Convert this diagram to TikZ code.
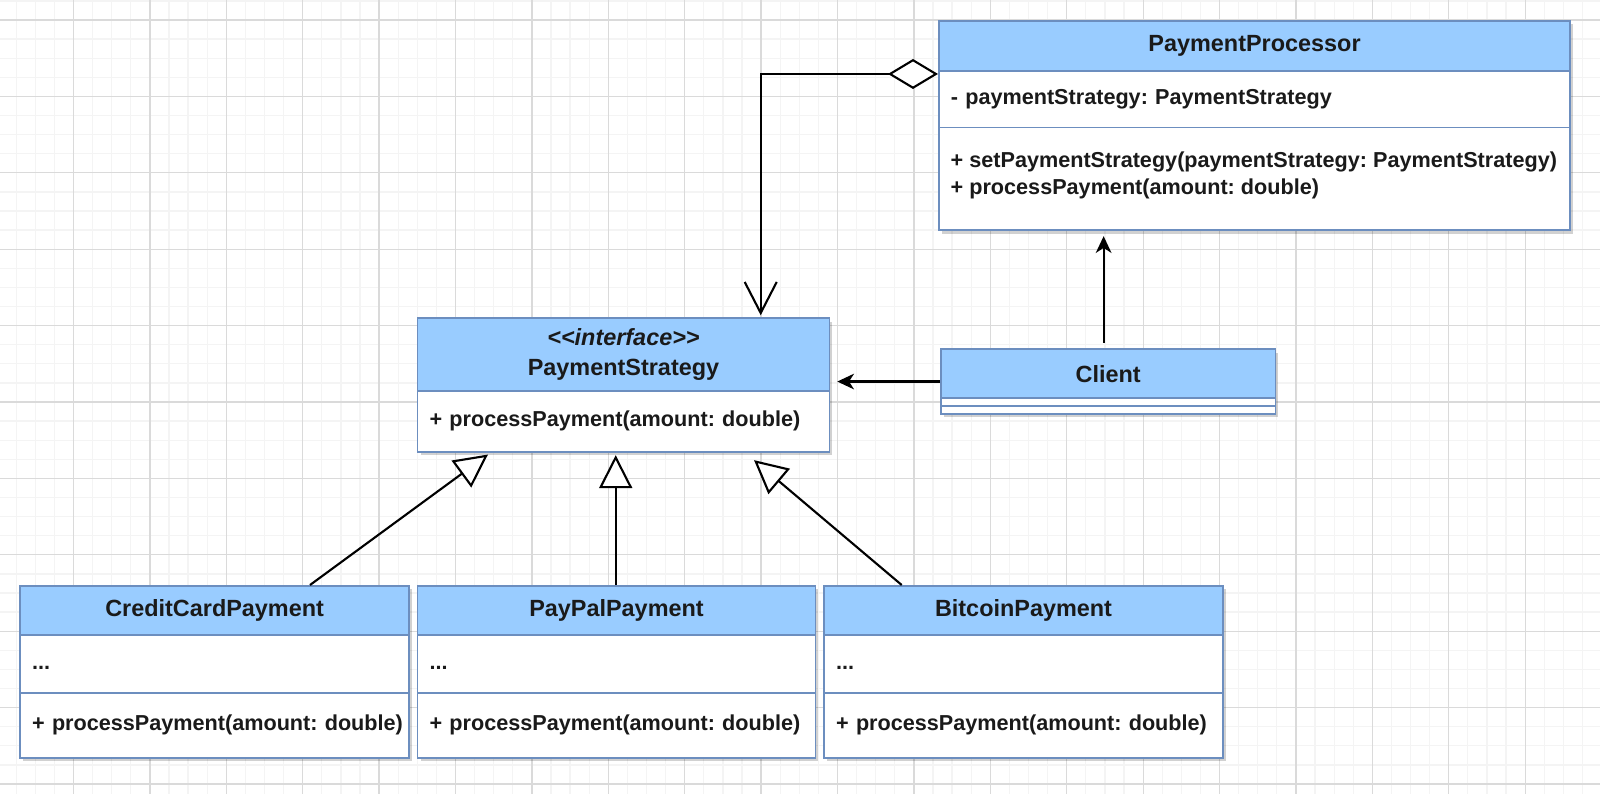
\documentclass[tikz,border=0pt]{standalone}
\usepackage{fontspec}
\setmainfont{Liberation Sans}
\usetikzlibrary{arrows.meta,shadows,calc}
\definecolor{hdrc}{HTML}{99CCFF}
\definecolor{bordc}{HTML}{6C8EBF}
\definecolor{txtc}{HTML}{1A1A1A}
\definecolor{minorc}{HTML}{F4F4F4}
\definecolor{majorc}{HTML}{DADADA}
\newcommand\bodyfnt{\fontsize{6.15pt}{7.6pt}\selectfont\bfseries\frenchspacing}
\newcommand\titlefnt{\fontsize{6.66pt}{8.54pt}\selectfont\bfseries\frenchspacing}
\frenchspacing
\begin{document}
\begin{tikzpicture}[x=0.01cm,y=-0.01cm,
 boxshadow/.style={drop shadow={shadow xshift=0.03cm,shadow yshift=-0.035cm,opacity=0.18,fill=black}},
 outer/.style={draw=bordc,line width=0.5pt,fill=white,anchor=north west,inner sep=0pt,boxshadow},
 hdr/.style={draw=bordc,line width=0.5pt,fill=hdrc,anchor=north west,inner sep=0pt,font=\titlefnt,text=txtc,align=center},
 comp/.style={draw=bordc,line width=0.5pt,fill=white,anchor=north west,inner xsep=0.12cm,inner ysep=0pt,font=\bodyfnt,text=txtc,align=left},
 conn/.style={draw=black,line width=0.6pt},
 filled/.style={-{Stealth[length=0.167cm,width=0.156cm,inset=0.05cm]}},
 inherit/.style={-{Triangle[fill=white,length=0.33cm,width=0.33cm]}}
]
\useasboundingbox (0,0) rectangle (1600,794);
\fill[white] (0,0) rectangle (1600,794);
% grid
\foreach \i in {0,...,84} \draw[minorc,line width=0.35pt] ({-2.9+19.1*\i},0) -- ({-2.9+19.1*\i},794);
\foreach \j in {-1,...,41} \draw[minorc,line width=0.35pt] (0,{20+19.1*\j}) -- (1600,{20+19.1*\j});
\foreach \i in {0,...,21} \draw[majorc,line width=0.35pt] ({-2.9+76.4*\i},0) -- ({-2.9+76.4*\i},794);
\foreach \j in {0,...,10} \draw[majorc,line width=0.35pt] (0,{20+76.4*\j}) -- (1600,{20+76.4*\j});

% PaymentProcessor
\node[outer,minimum width=6.31cm,minimum height=2.093cm] (pp) at (938,20) {};
\node[hdr,minimum width=6.31cm,minimum height=0.5cm] (ppH) at (938,20) {PaymentProcessor};
\node[comp,text width=6.07cm,minimum height=0.567cm] (ppA) at (938,70) {\strut\mbox{- paymentStrategy: PaymentStrategy}};
\node[comp,text width=6.07cm,minimum height=1.026cm] (ppM) at (938,126.7) {};
\node[font=\bodyfnt,text=txtc,anchor=north west,inner sep=0pt,align=left] (ppMt) at (950,148) {\strut+ setPaymentStrategy(paymentStrategy: PaymentStrategy)\\+ processPayment(amount: double)};

% PaymentStrategy
\node[outer,minimum width=4.116cm,minimum height=1.334cm] (ps) at (416.7,317.3) {};
\node[hdr,minimum width=4.116cm,minimum height=0.727cm] (psH) at (416.7,317.3) {\textit{<\kern0pt<interface>\kern0pt>}\\PaymentStrategy};
\node[comp,text width=3.876cm,minimum height=0.607cm] (psM) at (416.7,390) {\strut\mbox{+ processPayment(amount: double)}};

% Client
\node[outer,minimum width=3.343cm,minimum height=0.647cm] (cl) at (940,348.3) {};
\node[hdr,minimum width=3.343cm,minimum height=0.49cm] (clH) at (940,348.3) {Client};
\node[comp,minimum width=3.343cm,minimum height=0.077cm] (clA) at (940,397.3) {};
\node[comp,minimum width=3.343cm,minimum height=0.08cm] (clM) at (940,405) {};

% CreditCardPayment
\node[outer,minimum width=3.887cm,minimum height=1.717cm] (cc) at (19.3,585) {};
\node[hdr,minimum width=3.887cm,minimum height=0.49cm] (ccH) at (19.3,585) {CreditCardPayment};
\node[comp,text width=3.647cm,minimum height=0.583cm] (ccA) at (19.3,634) {\strut...};
\node[comp,text width=3.647cm,minimum height=0.644cm] (ccM) at (19.3,692.3) {\strut\mbox{+ processPayment(amount: double)}};

% PayPalPayment
\node[outer,minimum width=3.976cm,minimum height=1.717cm] (pal) at (416.7,585) {};
\node[hdr,minimum width=3.976cm,minimum height=0.49cm] (palH) at (416.7,585) {PayPalPayment};
\node[comp,text width=3.736cm,minimum height=0.583cm] (palA) at (416.7,634) {\strut...};
\node[comp,text width=3.736cm,minimum height=0.644cm] (palM) at (416.7,692.3) {\strut\mbox{+ processPayment(amount: double)}};

% BitcoinPayment
\node[outer,minimum width=3.984cm,minimum height=1.717cm] (btc) at (823.3,585) {};
\node[hdr,minimum width=3.984cm,minimum height=0.49cm] (btcH) at (823.3,585) {BitcoinPayment};
\node[comp,text width=3.744cm,minimum height=0.583cm] (btcA) at (823.3,634) {\strut...};
\node[comp,text width=3.744cm,minimum height=0.644cm] (btcM) at (823.3,692.3) {\strut\mbox{+ processPayment(amount: double)}};

% connectors
\draw[conn,{Diamond[fill=white,length=0.5cm,width=0.3cm]}-{Straight Barb[length=0.31cm,width=0.32cm]}]
  ($(pp.west |- ppH.south)+(0,2.2)$) -| ($(ps.north west)+(344,-2)$);
\draw[conn,filled] (cl.west) -- ($(cl.west -| ps.east)+(7,0)$);
\draw[conn,filled] ($(cl.north)+(-4.5,-5.6)$) -- ($(cl.north |- pp.south)+(-4.5,5)$);
\draw[conn,inherit] ($(cc.north west)+(290.7,0)$) -- ($(ps.south west)+(71.3,2)$);
\draw[conn,inherit] ($(pal.north west)+(199,0)$) -- ($(ps.south west)+(199,2.6)$);
\draw[conn,inherit] ($(btc.north west)+(78.4,0)$) -- ($(ps.south west)+(337.3,7.6)$);
\end{tikzpicture}
\end{document}
